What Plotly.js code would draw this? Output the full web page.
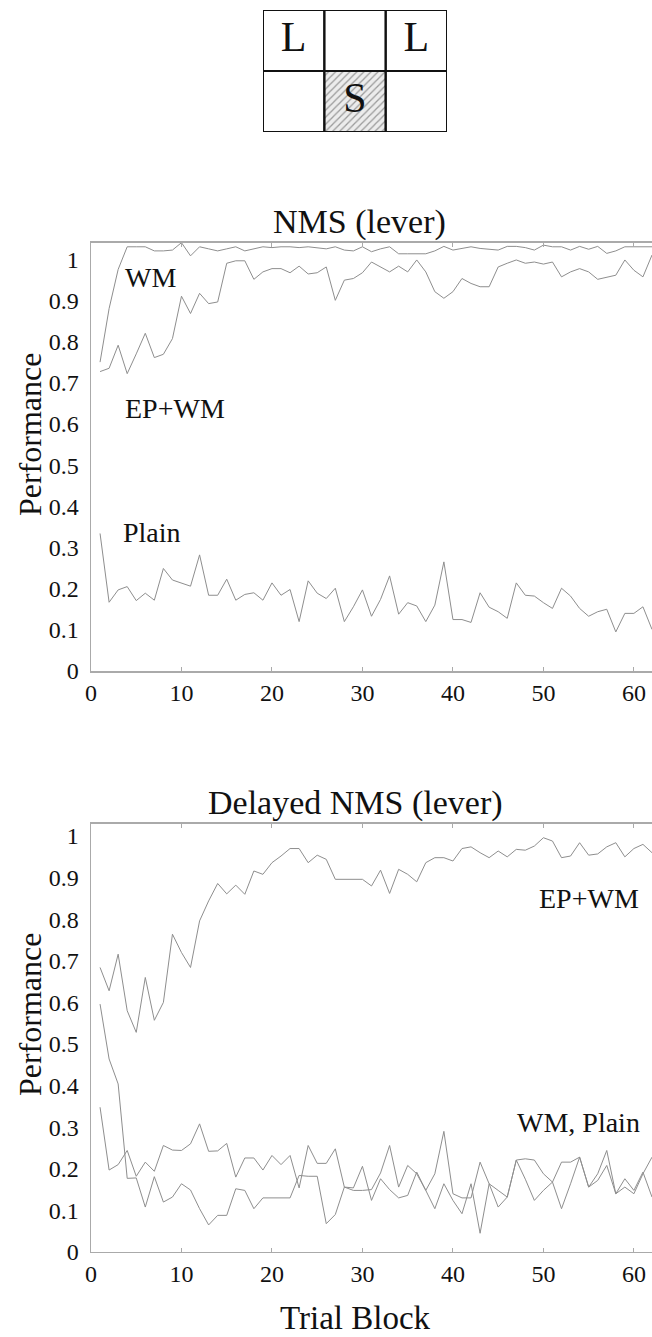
<!DOCTYPE html>
<html>
<head>
<meta charset="utf-8">
<script src="https://cdn.plot.ly/plotly-3.0.1.min.js"></script>
<style>
html,body{margin:0;padding:0;background:#fff;}
#chart{width:652px;height:1337px;}
</style>
</head>
<body>
<div id="chart"></div>
<script>
// ---- Diagram (maze cue layout) ----
const gridRows = [['L', '', 'L'], ['', 'S', '']];
const shadedCell = [1, 1]; // row, col of the hatched cell

// ---- Top panel: NMS (lever) ----
const nmsUpper = [0.75,0.88,0.975,1.03,1.03,1.03,1.02,1.02,1.022,1.04,
1.008,1.03,1.025,1.02,1.025,1.03,1.02,1.025,1.03,1.028,
1.03,1.03,1.028,1.03,1.028,1.025,1.03,1.022,1.02,1.03,
1.018,1.025,1.03,1.013,1.013,1.013,1.013,1.02,1.031,1.022,
1.026,1.03,1.026,1.024,1.022,1.031,1.031,1.028,1.022,1.034,
1.03,1.03,1.022,1.031,1.024,1.031,1.014,1.02,1.03,1.03,
1.03,1.03];
const nmsLower = [0.727,0.735,0.791,0.722,0.77,0.820,0.761,0.769,0.807,0.910,
0.868,0.917,0.892,0.896,0.990,0.996,0.996,0.951,0.969,0.977,
0.977,0.967,0.983,0.964,0.967,0.981,0.900,0.949,0.953,0.967,
0.993,0.98,0.969,0.983,0.969,0.998,0.969,0.921,0.905,0.921,
0.953,0.941,0.933,0.933,0.981,0.99,0.998,0.990,0.993,0.988,
0.993,0.957,0.969,0.977,0.969,0.951,0.956,0.961,0.998,0.973,
0.957,1.01];
const nmsPlain = [0.334,0.167,0.197,0.205,0.171,0.189,0.172,0.249,0.221,0.213,
0.206,0.282,0.184,0.184,0.223,0.172,0.186,0.19,0.172,0.214,
0.184,0.198,0.120,0.219,0.189,0.176,0.201,0.120,0.156,0.197,
0.133,0.174,0.231,0.138,0.166,0.158,0.120,0.16,0.265,0.125,
0.125,0.118,0.190,0.155,0.144,0.128,0.214,0.184,0.182,0.166,
0.152,0.201,0.182,0.152,0.133,0.144,0.150,0.095,0.140,0.140,
0.156,0.101];

// ---- Bottom panel: Delayed NMS (lever) ----
const delEPWM = [0.684,0.628,0.716,0.58,0.528,0.66,0.557,0.60,0.764,0.72,
0.684,0.796,0.844,0.886,0.861,0.882,0.86,0.916,0.908,0.936,
0.952,0.970,0.970,0.936,0.954,0.944,0.896,0.896,0.896,0.896,
0.880,0.918,0.862,0.920,0.908,0.890,0.936,0.948,0.948,0.940,
0.970,0.974,0.960,0.948,0.964,0.950,0.968,0.966,0.976,0.996,
0.988,0.948,0.952,0.984,0.954,0.957,0.974,0.984,0.950,0.970,
0.980,0.960];
const delWM = [0.596,0.464,0.404,0.177,0.178,0.108,0.181,0.12,0.132,0.164,
0.149,0.104,0.065,0.088,0.088,0.152,0.148,0.104,0.13,0.13,
0.13,0.13,0.184,0.182,0.182,0.068,0.09,0.156,0.148,0.148,
0.15,0.19,0.256,0.156,0.208,0.188,0.148,0.188,0.290,0.140,
0.130,0.130,0.216,0.164,0.148,0.132,0.221,0.175,0.124,0.148,
0.168,0.104,0.164,0.228,0.156,0.188,0.244,0.140,0.156,0.140,
0.188,0.228];
const delPlain = [0.348,0.197,0.21,0.244,0.182,0.216,0.194,0.256,0.245,0.244,
0.26,0.308,0.242,0.243,0.261,0.18,0.226,0.226,0.197,0.232,
0.21,0.232,0.154,0.256,0.213,0.213,0.248,0.156,0.154,0.206,
0.124,0.176,0.15,0.130,0.136,0.192,0.148,0.104,0.164,0.124,
0.092,0.164,0.045,0.164,0.108,0.132,0.221,0.224,0.221,0.188,
0.168,0.216,0.216,0.228,0.156,0.172,0.208,0.140,0.176,0.148,
0.192,0.132];

const xTicks = [0, 10, 20, 30, 40, 50, 60];
const yTicks = [0, 0.1, 0.2, 0.3, 0.4, 0.5, 0.6, 0.7, 0.8, 0.9, 1];
const yTickText = ['0', '0.1', '0.2', '0.3', '0.4', '0.5', '0.6', '0.7', '0.8', '0.9', '1'];

const blocks = arr => arr.map((_, i) => i + 1);
const SERIF = "'Liberation Serif', 'DejaVu Serif', serif";
const LINE = {color: '#8e8e8e', width: 1};
const AXC = '#aaaaaa';

const traces = [];
[nmsUpper, nmsLower, nmsPlain].forEach(s => traces.push({
  x: blocks(s), y: s, xaxis: 'x', yaxis: 'y', type: 'scatter', mode: 'lines', line: LINE, hoverinfo: 'skip'
}));
[delEPWM, delWM, delPlain].forEach(s => traces.push({
  x: blocks(s), y: s, xaxis: 'x2', yaxis: 'y2', type: 'scatter', mode: 'lines', line: LINE, hoverinfo: 'skip'
}));

// diagram: hatched cell + letters
const nRows = gridRows.length;
const sr = shadedCell[0], sc = shadedCell[1];
traces.push({
  x: [sc, sc + 1, sc + 1, sc, sc],
  y: [nRows - sr - 1, nRows - sr - 1, nRows - sr, nRows - sr, nRows - sr - 1],
  xaxis: 'x3', yaxis: 'y3', type: 'scatter', mode: 'lines', fill: 'toself',
  fillcolor: '#e6e6e6',
  fillpattern: {shape: '/', fgcolor: '#9a9a9a', bgcolor: '#ececec', size: 5, solidity: 0.25},
  line: {width: 0}, hoverinfo: 'skip'
});
const lx = [], ly = [], lt = [];
gridRows.forEach((row, r) => row.forEach((t, c) => {
  if (t) { lx.push(c + 0.5); ly.push(nRows - r - 0.5); lt.push(t); }
}));
traces.push({
  x: lx, y: ly, text: lt, xaxis: 'x3', yaxis: 'y3', type: 'scatter', mode: 'text',
  textfont: {family: SERIF, size: 42, color: '#111'}, hoverinfo: 'skip'
});

const shapes = [];
gridRows.forEach((row, r) => row.forEach((t, c) => {
  shapes.push({type: 'rect', xref: 'x3', yref: 'y3', x0: c, x1: c + 1,
    y0: nRows - r - 1, y1: nRows - r, line: {color: '#111', width: 2}, fillcolor: 'rgba(0,0,0,0)'});
}));

function xAxis(anchor) {
  return {
    domain: [0, 1], range: [0, 62], anchor: anchor,
    tickmode: 'array', tickvals: xTicks, ticktext: xTicks.map(String),
    ticks: 'inside', ticklen: 4, tickcolor: AXC, tickwidth: 1,
    showline: true, linecolor: AXC, linewidth: 1.5, mirror: 'ticks',
    showgrid: false, zeroline: false, fixedrange: true,
    tickfont: {family: SERIF, size: 24, color: '#111'}
  };
}
function yAxis(anchor, domain, top) {
  return {
    domain: domain, range: [0, top], anchor: anchor,
    tickmode: 'array', tickvals: yTicks, ticktext: yTickText,
    ticks: '', showline: true, linecolor: AXC, linewidth: 1.5, mirror: true,
    showgrid: false, zeroline: false, fixedrange: true,
    ticklabelstandoff: 6,
    tickfont: {family: SERIF, size: 24, color: '#111'}
  };
}

const ann = (text, x, y, xref, yref, size, extra) => Object.assign({
  text: text, x: x, y: y, xref: xref, yref: yref, showarrow: false,
  xanchor: 'center', yanchor: 'middle',
  font: {family: SERIF, size: size, color: '#111'}
}, extra || {});

const layout = {
  width: 652, height: 1337,
  margin: {l: 91, r: 0, t: 0, b: 0},
  paper_bgcolor: '#fff', plot_bgcolor: '#fff',
  showlegend: false,
  font: {family: SERIF},
  xaxis: xAxis('y'),
  yaxis: yAxis('x', [0.4981, 0.8185], 1.04),
  xaxis2: xAxis('y2'),
  yaxis2: yAxis('x2', [0.0636, 0.3837], 1.029),
  xaxis3: {domain: [0.3066, 0.6346], range: [0, 3], anchor: 'y3', visible: false, fixedrange: true},
  yaxis3: {domain: [0.9013, 0.9925], range: [0, 2], anchor: 'x3', visible: false, fixedrange: true},
  shapes: shapes,
  annotations: [
    ann('NMS (lever)', 0.4795, 0.8185, 'paper', 'paper', 34, {yanchor: 'bottom'}),
    ann('Delayed NMS (lever)', 0.4706, 0.3837, 'paper', 'paper', 34, {yanchor: 'bottom'}),
    ann('Performance', -0.1087, 0.6746, 'paper', 'paper', 32, {textangle: -90}),
    ann('Performance', -0.1087, 0.2408, 'paper', 'paper', 32, {textangle: -90}),
    ann('Trial Block', 0.4706, 0.0142, 'paper', 'paper', 33),
    ann('WM', 6.6, 0.956, 'x', 'y', 28),
    ann('EP+WM', 9.3, 0.638, 'x', 'y', 28),
    ann('Plain', 6.7, 0.337, 'x', 'y', 28),
    ann('EP+WM', 55.0, 0.851, 'x2', 'y2', 28),
    ann('WM, Plain', 53.9, 0.311, 'x2', 'y2', 28)
  ]
};

Plotly.newPlot('chart', traces, layout, {displayModeBar: false, staticPlot: true});
</script>
</body>
</html>
